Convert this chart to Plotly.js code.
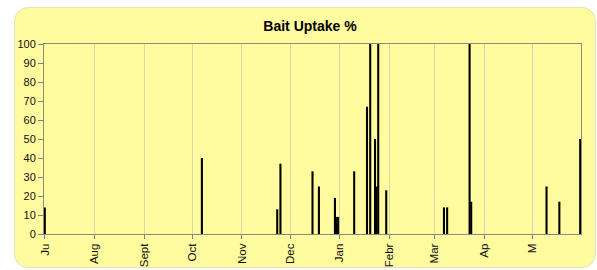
<!DOCTYPE html>
<html>
<head>
<meta charset="utf-8">
<script src="https://cdn.plot.ly/plotly-3.0.1.min.js"></script>
<style>
  html, body { margin: 0; padding: 0; background: #ffffff; }
  #card { position: absolute; left: 14px; top: 7px; width: 582px; height: 261px;
          background: #FFFB9E; border-radius: 14px; border: 1px solid #e4e2c4; box-sizing: border-box; }
  #chart { position: absolute; left: 0; top: 0; width: 597px; height: 270px; }
</style>
</head>
<body>
<div id="card"></div>
<div id="chart"></div>
<script>
// Sample dates and bait uptake (%)
const sampleDates = [
  '2006-07-01', '2006-10-07', '2006-11-23', '2006-11-25', '2006-12-15', '2006-12-19',
  '2006-12-29', '2006-12-30', '2006-12-31', '2007-01-10', '2007-01-18', '2007-01-20',
  '2007-01-23', '2007-01-24', '2007-01-25', '2007-01-30', '2007-03-07', '2007-03-09',
  '2007-03-23', '2007-03-24', '2007-05-10', '2007-05-18', '2007-05-31'
];
const uptakePct = [
  14, 40, 13, 37, 33, 25,
  19, 9, 9, 33, 67, 100,
  50, 25, 100, 23, 14, 14,
  100, 17, 25, 17, 50
];
// Month tick positions and labels
const monthStarts = [
  '2006-07-01', '2006-08-01', '2006-09-01', '2006-10-01', '2006-11-01', '2006-12-01',
  '2007-01-01', '2007-02-01', '2007-03-01', '2007-04-01', '2007-05-01'
];
const monthLabels = ['Ju', 'Aug', 'Sept', 'Oct', 'Nov', 'Dec', 'Jan', 'Febr', 'Mar', 'Ap', 'M'];
const yTicks = [0, 10, 20, 30, 40, 50, 60, 70, 80, 90, 100];

const DAY = 86400000;

const trace = {
  type: 'bar',
  x: sampleDates,
  y: uptakePct,
  width: sampleDates.map(() => 1.3 * DAY),
  marker: { color: '#000000', line: { width: 0 } },
  hoverinfo: 'x+y'
};

const layout = {
  width: 597,
  height: 270,
  margin: { l: 44, r: 16, t: 44, b: 36, pad: 0 },
  paper_bgcolor: 'rgba(0,0,0,0)',
  plot_bgcolor: 'rgba(0,0,0,0)',
  showlegend: false,
  font: { family: 'Arial, Liberation Sans, sans-serif', color: '#000000' },
  title: {
    text: '<b>Bait Uptake %</b>',
    font: { family: 'Arial, Liberation Sans, sans-serif', size: 14, color: '#000000' },
    x: 310 / 597, xref: 'container', xanchor: 'center',
    y: 1 - 26 / 270, yref: 'container', yanchor: 'middle'
  },
  xaxis: {
    type: 'date',
    range: ['2006-06-30 12:00', '2007-05-31 12:00'],
    tickmode: 'array',
    tickvals: monthStarts,
    ticktext: monthLabels,
    tickangle: -90,
    ticks: 'outside',
    ticklen: 4,
    tickcolor: '#808080',
    tickfont: { size: 11.5, color: '#111111' },
    showgrid: true,
    gridcolor: '#dcd9a6',
    gridwidth: 1,
    showline: true,
    linecolor: '#8c8c7a',
    linewidth: 1,
    mirror: true,
    zeroline: false,
    fixedrange: true
  },
  yaxis: {
    range: [0, 100],
    tickmode: 'array',
    tickvals: yTicks,
    ticktext: yTicks.map(String),
    ticks: 'outside',
    ticklen: 5,
    tickcolor: '#808080',
    tickfont: { size: 11, color: '#111111' },
    showgrid: false,
    showline: true,
    linecolor: '#8c8c7a',
    linewidth: 1,
    mirror: true,
    zeroline: false,
    fixedrange: true
  }
};

Plotly.newPlot('chart', [trace], layout, { displayModeBar: false, staticPlot: true });
</script>
</body>
</html>
